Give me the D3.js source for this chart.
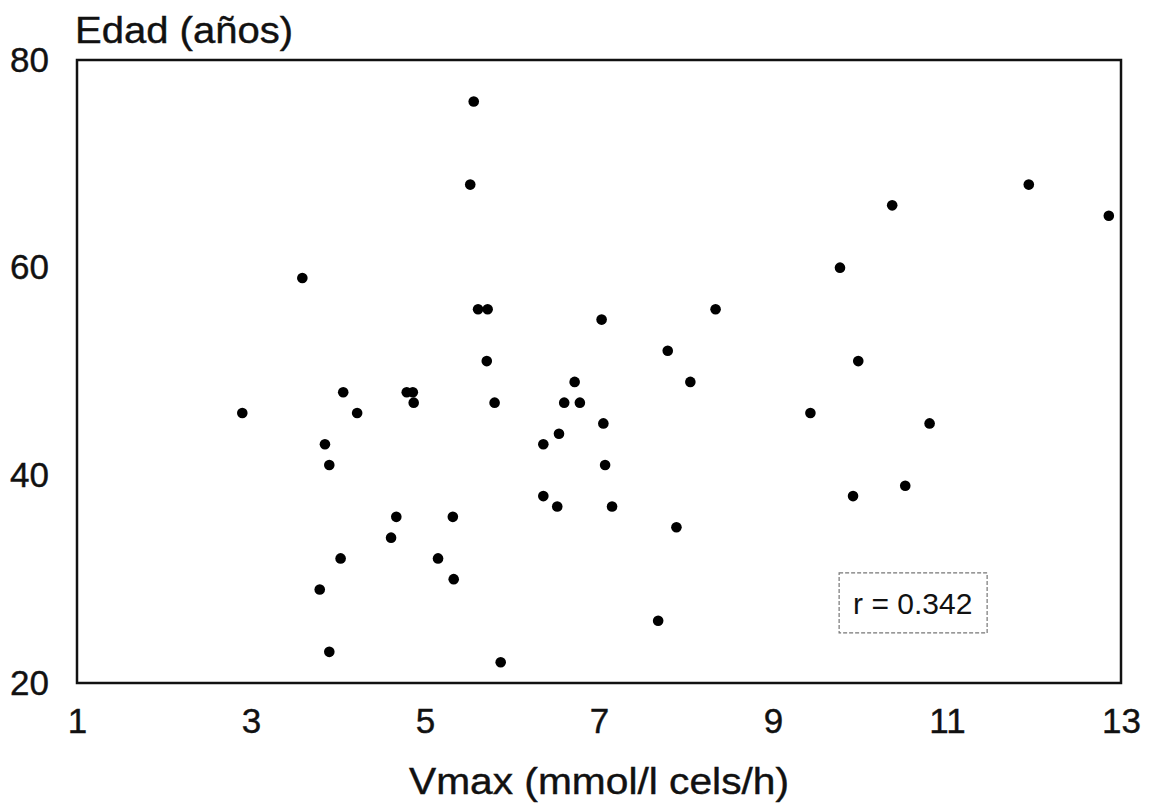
<!DOCTYPE html>
<html>
<head>
<meta charset="utf-8">
<script src="https://cdn.jsdelivr.net/npm/d3@7"></script>
<style>
  body { margin: 0; background: #fff; }
  text { font-family: "Liberation Sans", Arial, sans-serif; fill: #111; }
</style>
</head>
<body>
<svg id="chart" width="1153" height="810"></svg>
<script>
// Vmax (mmol/l cels/h) vs Edad (años)
const vmax = [2.90, 3.59, 3.85, 3.90, 3.79, 3.90, 4.06, 4.03, 4.22, 4.67,
              4.61, 4.79, 4.86, 4.87, 5.15, 5.32, 5.33, 5.52, 5.56, 5.61,
              5.72, 5.71, 5.80, 5.87, 6.36, 6.36, 6.54, 6.52, 6.60, 6.72,
              6.78, 7.03, 7.05, 7.07, 7.15, 7.68, 7.79, 7.89, 8.05, 8.34,
              9.43, 9.77, 9.92, 9.98, 10.37, 10.52, 10.80, 11.94, 12.86];
const edad = [46, 59, 43, 41, 29, 23, 48, 32, 46, 36,
              34, 48, 48, 47, 32, 36, 30, 68, 76, 56,
              56, 51, 47, 22, 43, 38, 44, 37, 47, 49,
              47, 55, 45, 41, 37, 26, 52, 35, 49, 56,
              46, 60, 38, 51, 66, 39, 45, 68, 65];
const xTicks = [1, 3, 5, 7, 9, 11, 13];
const yTicks = [20, 40, 60, 80];
const rLabel = "r = 0.342";

const svg = d3.select("#chart");
const margin = {top: 60, right: 32, bottom: 127, left: 77};
const width = 1153 - margin.left - margin.right,
      height = 810 - margin.top - margin.bottom;

svg.append("rect").attr("width", 1153).attr("height", 810).attr("fill", "#fff");

const g = svg.append("g")
  .attr("transform", `translate(${margin.left},${margin.top})`);

const x = d3.scaleLinear().domain([1, 13]).range([0, width]);
const y = d3.scaleLinear().domain([20, 80]).range([height, 0]);

// frame
g.append("rect")
  .attr("x", 0).attr("y", 0)
  .attr("width", width).attr("height", height)
  .attr("fill", "none")
  .attr("stroke", "#111")
  .attr("stroke-width", 2.5);

// axes (labels only, no tick marks)
const xAxis = g.append("g")
  .attr("transform", `translate(0,${height})`)
  .call(d3.axisBottom(x).tickValues(xTicks).tickSize(0).tickPadding(25));
xAxis.select(".domain").remove();
xAxis.selectAll("text").style("font-size", "35px")
  .style("font-family", "'Liberation Sans', Arial, sans-serif")
  .attr("fill", "#111").attr("stroke", "#111").attr("stroke-width", 0.4);

const yAxis = g.append("g")
  .call(d3.axisLeft(y).tickValues(yTicks).tickSize(0).tickPadding(28));
yAxis.select(".domain").remove();
yAxis.selectAll("text").style("font-size", "35px")
  .style("font-family", "'Liberation Sans', Arial, sans-serif")
  .attr("fill", "#111").attr("stroke", "#111").attr("stroke-width", 0.4);

// points
g.selectAll(".dot")
  .data(vmax)
  .enter()
  .append("circle")
  .attr("class", "dot")
  .attr("cx", d => x(d))
  .attr("cy", (d, i) => y(edad[i]))
  .attr("r", 5.3)
  .attr("fill", "#000");

// r box
const bx = x(9.76), by = y(30.6);
g.append("rect")
  .attr("x", bx).attr("y", by)
  .attr("width", 148).attr("height", 60)
  .attr("fill", "#fff")
  .attr("stroke", "#777")
  .attr("stroke-width", 1.2)
  .attr("stroke-dasharray", "4,2");
g.append("text")
  .attr("x", bx + 14).attr("y", by + 41)
  .style("font-size", "30px")
  .text(rLabel);

// axis titles
svg.append("text")
  .attr("x", 75).attr("y", 43)
  .attr("textLength", 218)
  .attr("lengthAdjust", "spacingAndGlyphs")
  .attr("stroke", "#111").attr("stroke-width", 0.4)
  .style("font-size", "36px")
  .text("Edad (años)");

svg.append("text")
  .attr("x", margin.left + width / 2).attr("y", 794)
  .attr("text-anchor", "middle")
  .attr("textLength", 380)
  .attr("lengthAdjust", "spacingAndGlyphs")
  .attr("stroke", "#111").attr("stroke-width", 0.4)
  .style("font-size", "36px")
  .text("Vmax (mmol/l cels/h)");
</script>
</body>
</html>
